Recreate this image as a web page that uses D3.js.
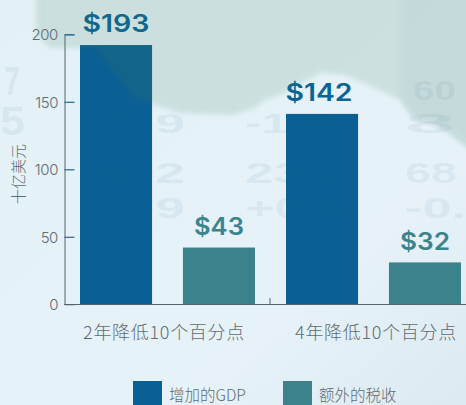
<!DOCTYPE html>
<html><head><meta charset="utf-8">
<script src="https://cdn.jsdelivr.net/npm/d3@7/dist/d3.min.js"></script>
<style>html,body{margin:0;padding:0;background:#e6f2f8}svg{display:block}text{font-family:"Noto Sans CJK SC","Noto Sans",sans-serif}</style>
</head><body><svg id="c" width="466" height="405"></svg>
<script>
const categories=["2年降低10个百分点","4年降低10个百分点"];
const seriesNames=["增加的GDP","额外的税收"];
const gdpValues=[193,142];
const taxValues=[43,32];
const yTicks=[0,50,100,150,200];
const yTitle="十亿美元";
const bgDigits=[["7",4,95,16,40],["5",0,135,25,40],["+5.9",80,133,105,28],["-1.4",245,133,85,28],["8",405,133,50,28],["56.2",80,183,105,30],["23.2",245,183,100,30],["68",405,183,52,30],["+1.9",80,218,105,30],["+0.8",245,218,100,30],["-0.",405,218,61,30],["60",413,100,43,28]];

const svg=d3.select("#c");
const defs=svg.append("defs");
const g=defs.append("linearGradient").attr("id","bg").attr("x1",0).attr("y1",0).attr("x2",1).attr("y2",1);
g.append("stop").attr("offset",0).attr("stop-color","#e3f1f6");
g.append("stop").attr("offset",.7).attr("stop-color","#e6f2f8");
g.append("stop").attr("offset",1).attr("stop-color","#dce9f0");
defs.append("filter").attr("id","soft").append("feGaussianBlur").attr("stdDeviation",2.5);
svg.append("rect").attr("width",466).attr("height",405).attr("fill","url(#bg)");

const y=d3.scaleLinear().domain([0,200]).range([304.3,34.3]);
const x0=d3.scaleBand().domain(categories).range([65,477]);
const x1=d3.scaleBand().domain(seriesNames).range([15,190]).paddingInner(.3);
const colors=d3.scaleOrdinal().domain(seriesNames).range(["#0a5f94","#3b828c"]);
const labelColors=d3.scaleOrdinal().domain(seriesNames).range(["#0a6396","#3b838e"]);

const groups=categories.map((c,i)=>({c,vals:[{s:seriesNames[0],v:gdpValues[i]},{s:seriesNames[1],v:taxValues[i]}]}));
const cg=svg.append("g").selectAll("g").data(groups).join("g").attr("transform",d=>`translate(${x0(d.c)},0)`);
cg.selectAll("rect").data(d=>d.vals).join("rect")
 .attr("x",d=>x1(d.s)).attr("width",x1.bandwidth())
 .attr("y",d=>y(d.v)+1.3).attr("height",d=>y(0)-y(d.v)-1.3)
 .attr("fill",d=>colors(d.s));

svg.append("path").attr("fill","#3f8055").attr("opacity",.15).attr("filter","url(#soft)").attr("d","M36,-10L36,35L50,48L95,48L115,75L135,100L155,105L180,113L233,115L255,108L265,100L280,95L320,73L345,75L375,88L400,100L410,115L425,122L445,130L476,155L476,-10Z");
svg.append("path").attr("fill","#5a7f95").attr("opacity",.05).attr("filter","url(#soft)").attr("d","M400,-10L400,100L410,115L425,122L445,130L476,155L476,-10Z");
svg.append("g").selectAll("text").data(bgDigits).join("text")
 .attr("x",d=>d[1]).attr("y",d=>d[2]).attr("font-size",d=>d[4]).attr("font-weight",700).attr("fill","#0a4f78").attr("opacity",.06)
 .attr("textLength",d=>d[3]).attr("lengthAdjust","spacingAndGlyphs").style("font-family","Liberation Sans").text(d=>d[0]);

cg.selectAll("text.v").data(d=>d.vals).join("text").attr("class","v")
 .attr("x",d=>x1(d.s)+x1.bandwidth()/2-(d.v===142?3:0)).attr("y",d=>y(d.v)-11.5).attr("text-anchor","middle")
 .attr("font-size",24).attr("font-weight",600).attr("fill",d=>labelColors(d.s))
 .style("font-family","Inter").attr("textLength",d=>d.v>99?67:50).attr("lengthAdjust","spacingAndGlyphs").text(d=>"$"+d.v);

const ya=d3.axisRight(y).tickValues(yTicks).tickSize(10).tickFormat("");
const yg=svg.append("g").attr("transform","translate(64.5,0)").call(ya);
yg.select(".domain").attr("stroke","#55646e").attr("stroke-width",1);
yg.selectAll(".tick line").attr("stroke",(d)=>d===0?"none":d===50?"#3f5c9e":"#1b6a9c").attr("stroke-width",1.2);
svg.append("g").selectAll("text").data(yTicks).join("text").attr("x",58).attr("y",d=>y(d)+6).attr("text-anchor","end").attr("font-size",15).attr("font-weight",300).attr("fill","#5f6b72").style("font-family","Inter").attr("letter-spacing","-.4").text(d=>d);
svg.append("line").attr("x1",64).attr("x2",466).attr("y1",y(0)+.2).attr("y2",y(0)+.2).attr("stroke","#55646e").attr("stroke-width",1);
svg.append("line").attr("x1",270).attr("x2",270).attr("y1",298).attr("y2",304).attr("stroke","#55646e").attr("stroke-width",1);
svg.append("text").attr("transform","translate(24,174) rotate(-90)").attr("text-anchor","middle").attr("font-size",15).attr("font-weight",300).attr("fill","#5f6b72").text(yTitle);

const catX=[164,376];
svg.append("g").selectAll("text").data(categories).join("text").attr("x",(d,i)=>catX[i]).attr("y",339).attr("text-anchor","middle").attr("font-size",18).attr("font-weight",300).attr("letter-spacing",.7).attr("fill","#5f6b72").text(d=>d);

const legX=[133,283];
const leg=svg.append("g").selectAll("g").data(seriesNames).join("g").attr("transform",(d,i)=>`translate(${legX[i]},381)`);
leg.append("rect").attr("width",29).attr("height",26).attr("fill",d=>colors(d));
leg.append("text").attr("x",36).attr("y",20).attr("font-size",15.5).attr("font-weight",300).attr("fill","#5f6b72").text(d=>d);
</script></body></html>
